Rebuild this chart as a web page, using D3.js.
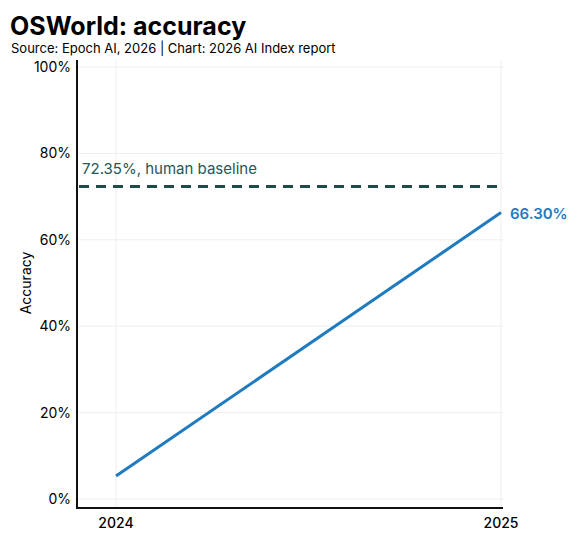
<!DOCTYPE html><html><head><meta charset="utf-8">
<script src="https://cdn.jsdelivr.net/npm/d3@7"></script>
<style>body{margin:0;background:#fff}text{font-family:Inter,"Noto Sans",sans-serif}</style></head><body>
<svg id="c" width="582" height="548"></svg>
<script>
const years=[2024,2025];
const accuracy=[5.3,66.3];
const baseline=72.35;
const yTicks=[0,20,40,60,80,100];
const svg=d3.select("#c");
const L=77,R=503,T=60,B=508;
const x=d3.scaleLinear().domain([2024,2025]).range([116,501]);
const y=d3.scaleLinear().domain([0,100]).range([499,67]);
svg.append("text").attr("x",10).attr("y",35).attr("font-size",25).attr("font-weight",700).text("OSWorld: accuracy");
svg.append("text").attr("x",11).attr("y",53).attr("font-size",13).text("Source: Epoch AI, 2026 | Chart: 2026 AI Index report");
const g=svg.append("g");
g.selectAll(".gy").data(yTicks).join("line").attr("x1",L).attr("x2",R).attr("y1",d=>y(d)).attr("y2",d=>y(d)).attr("stroke","#eee");
g.selectAll(".gx").data(years).join("line").attr("x1",d=>x(d)).attr("x2",d=>x(d)).attr("y1",T).attr("y2",B).attr("stroke","#eee");
g.selectAll(".ty").data(yTicks).join("text").attr("x",L-6).attr("y",d=>y(d)+5).attr("text-anchor","end").attr("font-size",14).text(d=>d+"%");
g.selectAll(".tx").data(years).join("text").attr("x",d=>x(d)).attr("y",528).attr("text-anchor","middle").attr("font-size",14).attr("font-weight",500).text(d=>d);
svg.append("line").attr("x1",L).attr("x2",L).attr("y1",T).attr("y2",B).attr("stroke","#111").attr("stroke-width",2);
svg.append("line").attr("x1",L-1).attr("x2",R).attr("y1",B).attr("y2",B).attr("stroke","#111").attr("stroke-width",2);
svg.append("text").attr("transform",`translate(31,283) rotate(-90)`).attr("text-anchor","middle").attr("font-size",14).text("Accuracy");
svg.append("line").attr("x1",L+2).attr("x2",R).attr("y1",y(baseline)).attr("y2",y(baseline)).attr("stroke","#1f4b4b").attr("stroke-width",3).attr("stroke-dasharray","10,7");
svg.append("text").attr("x",82).attr("y",174).attr("font-size",15).attr("fill","#235858").text(baseline.toFixed(2)+"%, human baseline");
const pts=years.map((d,i)=>[x(d),y(accuracy[i])]);
svg.append("path").attr("d",d3.line()(pts)).attr("stroke","#1f7bc0").attr("stroke-width",3).attr("fill","none");
svg.append("text").attr("x",x(2025)+9).attr("y",y(accuracy[1])+6).attr("font-size",15).attr("font-weight",600).attr("fill","#1f7bc0").text(accuracy[1].toFixed(2)+"%");
</script></body></html>
